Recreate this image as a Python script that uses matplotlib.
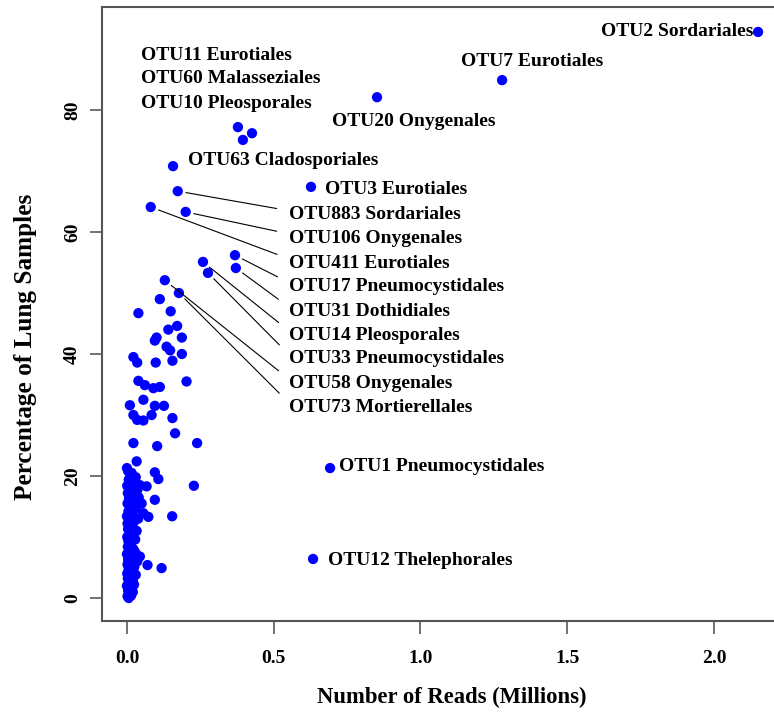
import matplotlib
matplotlib.use('Agg')
import matplotlib.pyplot as plt

# labelled OTUs: reads (millions), % of lung samples
otu_names = ['OTU2 Sordariales', 'OTU7 Eurotiales', 'OTU20 Onygenales',
             'OTU11 Eurotiales', 'OTU60 Malasseziales', 'OTU10 Pleosporales',
             'OTU63 Cladosporiales', 'OTU3 Eurotiales',
             'OTU883 Sordariales', 'OTU106 Onygenales', 'OTU411 Eurotiales',
             'OTU17 Pneumocystidales', 'OTU31 Dothidiales', 'OTU14 Pleosporales',
             'OTU33 Pneumocystidales', 'OTU58 Onygenales', 'OTU73 Mortierellales',
             'OTU1 Pneumocystidales', 'OTU12 Thelephorales']
otu_reads = [2.150, 1.278, 0.852, 0.378, 0.426, 0.395, 0.157, 0.627,
             0.173, 0.200, 0.081, 0.368, 0.371, 0.259, 0.276, 0.129, 0.177,
             0.692, 0.634]
otu_pct = [92.8, 84.9, 82.1, 77.2, 76.2, 75.1, 70.8, 67.4,
           66.7, 63.3, 64.1, 56.2, 54.1, 55.1, 53.3, 52.1, 50.0,
           21.3, 6.4]

# other OTUs
other_reads = [0.039, 0.112, 0.149, 0.141, 0.171, 0.101, 0.095, 0.187, 0.135, 0.147,
               0.187, 0.155, 0.098, 0.022, 0.035, 0.203, 0.039, 0.061, 0.090, 0.112,
               0.056, 0.010, 0.095, 0.126, 0.022, 0.084, 0.035, 0.056, 0.155, 0.164,
               0.022, 0.103, 0.239, 0.033, 0.000, 0.016, 0.095, 0.107, 0.022, 0.228,
               0.044, 0.067, 0.095, 0.050, 0.056, 0.073, 0.154, 0.044, 0.070, 0.118,
               0.002, 0.010, 0.004, 0.015, 0.000, 0.008, 0.020, 0.003, 0.012, 0.001,
               0.018, 0.006, 0.025, 0.002, 0.011, 0.004, 0.016, 0.000, 0.009, 0.022,
               0.003, 0.013, 0.005, 0.028, 0.001, 0.010, 0.019, 0.004, 0.014, 0.002,
               0.024, 0.008, 0.000, 0.017, 0.005, 0.030, 0.011, 0.002, 0.021, 0.007,
               0.015, 0.003, 0.026, 0.010, 0.001, 0.018, 0.006, 0.030, 0.012, 0.004,
               0.006, 0.014, 0.020, 0.024, 0.030, 0.035, 0.028, 0.033, 0.038, 0.040,
               0.036]
other_pct = [46.7, 49.0, 47.0, 44.0, 44.6, 42.7, 42.2, 42.7, 41.2, 40.6,
             40.0, 38.9, 38.6, 39.5, 38.6, 35.5, 35.6, 34.9, 34.4, 34.6,
             32.5, 31.6, 31.5, 31.5, 30.0, 30.0, 29.2, 29.1, 29.5, 27.0,
             25.4, 24.9, 25.4, 22.4, 21.3, 20.5, 20.6, 19.5, 18.8, 18.4,
             18.5, 18.3, 16.1, 15.5, 13.9, 13.3, 13.4, 6.8, 5.4, 4.9,
             0.3, 0.8, 1.2, 1.6, 2.0, 2.4, 2.8, 3.2, 3.6, 4.0,
             4.4, 4.8, 5.1, 5.5, 5.9, 6.3, 6.8, 7.2, 7.6, 8.0,
             8.4, 8.9, 9.3, 9.6, 10.0, 10.4, 10.9, 11.3, 11.7, 12.2,
             12.5, 12.9, 13.4, 13.8, 14.2, 14.6, 15.0, 15.5, 15.9, 16.3,
             16.8, 17.2, 17.5, 18.0, 18.4, 18.9, 19.4, 19.8, 20.3, 20.8,
             0.0, 0.4, 1.0, 2.2, 3.8, 6.0, 7.5, 11.0, 13.0, 16.5,
             17.8]

x_ticks = [0.0, 0.5, 1.0, 1.5, 2.0]
x_tick_labels = ['0.0', '0.5', '1.0', '1.5', '2.0']
y_ticks = [0, 20, 40, 60, 80]
y_tick_labels = ['0', '20', '40', '60', '80']

# label placement (text anchor, alignment, leader line)
label_layout = [
    (2.133, 92.8, 'right', False), (1.380, 87.9, 'center', False), (0.978, 78.2, 'center', False),
    (0.048, 88.9, 'left', False), (0.048, 85.1, 'left', False), (0.048, 81.1, 'left', False),
    (0.208, 71.8, 'left', False), (0.675, 66.9, 'left', False),
    (0.552, 62.8, 'left', True), (0.552, 59.0, 'left', True), (0.552, 54.9, 'left', True),
    (0.552, 51.0, 'left', True), (0.552, 47.0, 'left', True), (0.552, 43.1, 'left', True),
    (0.552, 39.2, 'left', True), (0.552, 35.2, 'left', True), (0.552, 31.3, 'left', True),
    (0.722, 21.5, 'left', False), (0.685, 6.2, 'left', False),
]

font = dict(family='Liberation Serif', weight='bold')

fig = plt.figure(figsize=(7.74, 7.13), dpi=100)
ax = fig.add_axes([102 / 774, 1 - 621 / 713, 681 / 774, 614 / 713])

ax.scatter(other_reads, other_pct, s=55, color='#0000ff', edgecolors='none', zorder=3)
ax.scatter(otu_reads, otu_pct, s=55, color='#0000ff', edgecolors='none', zorder=3)

for name, px, py, (tx, ty, ha, lead) in zip(otu_names, otu_reads, otu_pct, label_layout):
    if lead:
        ax.annotate(name, xy=(px, py), xytext=(tx, ty), ha=ha, va='center',
                    fontsize=14, **font,
                    arrowprops=dict(arrowstyle='-', color='black', lw=0.8,
                                    relpos=(0, 0.75), shrinkA=7, shrinkB=6))
    else:
        ax.text(tx, ty, name, ha=ha, va='center', fontsize=14, **font)

ax.set_xlim(-0.085, 2.235)
ax.set_ylim(-3.77, 96.89)

ax.set_xticks(x_ticks)
ax.set_xticklabels(x_tick_labels, fontsize=14, **font)
ax.set_yticks(y_ticks)
ax.set_yticklabels(y_tick_labels, fontsize=14, rotation=90, va='center', **font)
ax.tick_params(axis='both', direction='out', length=9, width=1.3, color='#666666')
ax.tick_params(axis='x', pad=12)
ax.tick_params(axis='y', pad=6)

for side in ['left', 'bottom', 'top']:
    ax.spines[side].set_color('#555555')
    ax.spines[side].set_linewidth(1.5)
ax.spines['right'].set_visible(False)

ax.set_xlabel('Number of Reads (Millions)', fontsize=16.3, **font)
ax.set_ylabel('Percentage of Lung Samples', fontsize=18.2, **font)
ax.xaxis.set_label_coords((452 - 102) / 681, (621 - 697) / 614)
ax.yaxis.set_label_coords((25 - 102) / 681, (621 - 347) / 614)
ax.xaxis.label.set_va('center')
ax.yaxis.label.set_va('center')

fig.savefig('out.png', dpi=100)
